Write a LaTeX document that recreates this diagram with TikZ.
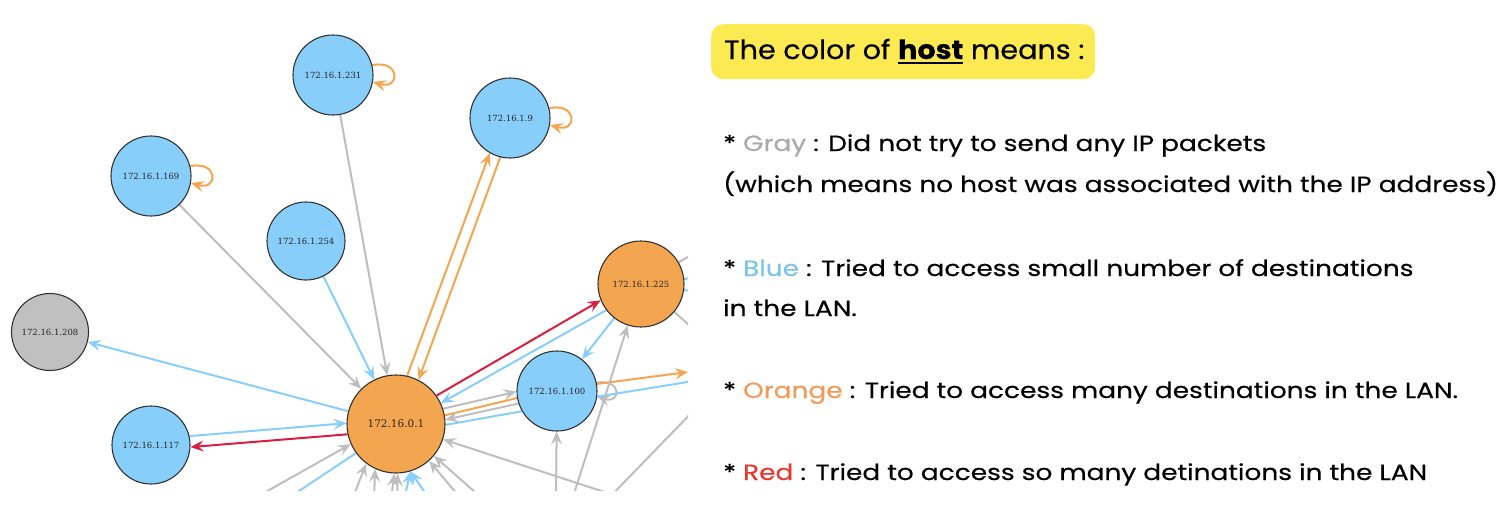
\documentclass[tikz,border=0pt]{standalone}
\usepackage{fontspec}
\setmainfont{Poppins}
\newfontfamily\labfont{DejaVu Serif}
\newfontfamily\legfont[FakeStretch=1.2,FakeBold=0.4]{Poppins}
\newfontfamily\titlefont[FakeStretch=1.08,FakeBold=0.4]{Poppins}
\usetikzlibrary{arrows.meta}
\definecolor{nblue}{RGB}{135,206,250}
\definecolor{norange}{RGB}{243,165,80}
\definecolor{ngray}{RGB}{192,192,192}
\definecolor{egray}{RGB}{190,190,190}
\definecolor{ered}{RGB}{218,30,65}
\definecolor{hlyellow}{RGB}{252,234,82}
\definecolor{tgray}{RGB}{170,170,170}
\definecolor{tblue}{RGB}{125,196,236}
\definecolor{torange}{RGB}{243,154,91}
\definecolor{tred}{RGB}{232,57,47}
\pgfdeclarelayer{bg}
\pgfsetlayers{bg,main}
\newcommand\ulword[1]{\setbox0\hbox{#1}\rlap{\rule[-5pt]{\wd0}{2pt}}#1}
\tikzset{
  host/.style={circle, draw=black!80, line width=1.1pt, inner sep=0pt, text=black!85,
    font=\labfont\fontsize{8.5}{10}\selectfont},
  bluehost/.style={host, fill=nblue},
  orangehost/.style={host, fill=norange},
  grayhost/.style={host, fill=ngray},
  tipped/.style={line width=2pt, -{Stealth[length=13pt,width=11pt,inset=5pt]}},
  plain/.style={line width=2pt},
  gEdge/.style={tipped, draw=egray},
  bEdge/.style={tipped, draw=nblue},
  oEdge/.style={tipped, draw=norange},
  rEdge/.style={tipped, draw=ered},
  gLine/.style={plain, draw=egray},
  bLine/.style={plain, draw=nblue},
  oLine/.style={plain, draw=norange},
  txt/.style={anchor=base west, inner sep=0pt, font=\legfont\fontsize{22}{26}\selectfont},
}
\begin{document}
\begin{tikzpicture}[x=1pt,y=-1pt]
\useasboundingbox (0,0) rectangle (1506,514);
% hosts
\node[bluehost, minimum size=80pt] (n231) at (333,75) {172.16.1.231};
\node[bluehost, minimum size=80pt] (n9) at (510,118) {172.16.1.9};
\node[bluehost, minimum size=80pt] (n169) at (151,176) {172.16.1.169};
\node[bluehost, minimum size=78pt] (n254) at (306,241) {172.16.1.254};
\node[grayhost, minimum size=77pt] (n208) at (50,332) {172.16.1.208};
\node[bluehost, minimum size=78pt] (n117) at (151,445) {172.16.1.117};
\node[orangehost, minimum size=98pt, font=\labfont\fontsize{10.5}{12}\selectfont] (n01) at (396,424) {172.16.0.1};
\node[bluehost, minimum size=80pt] (n100) at (557,391) {172.16.1.100};
\node[orangehost, minimum size=86pt] (n225) at (641,284) {172.16.1.225};
% off-picture ends
\coordinate (oR1) at (688,372);
\coordinate (oR2) at (700,380);
\coordinate (oR3) at (700,250);
\coordinate (oR4) at (700,274);
\coordinate (oR5) at (700,292);
\coordinate (oR6) at (700,335);
\coordinate (oD1) at (605,502);
\coordinate (oD2) at (700,404);
\coordinate (oB1) at (556,500);
\coordinate (oB2) at (572,500);
\coordinate (oB3) at (629,500);
\coordinate (oB4) at (262,494);
\coordinate (oB5) at (290,497);
\coordinate (oB6) at (352,500);
\coordinate (oB7) at (374,500);
\coordinate (oB8) at (391,500);
\coordinate (oB9) at (397,500);
\coordinate (oB10) at (404,500);
\coordinate (oB11) at (430,500);
\coordinate (oB12) at (462,500);
\coordinate (oB13) at (484,500);
\begin{pgfonlayer}{bg}
\begin{scope}
\clip (0,0) rectangle (688,490);
\draw[gEdge] (n231) -- (n01);
\draw[gEdge] (n169) -- (n01);
\draw[bEdge] (n254) -- (n01);
\draw[oEdge] (n01.77) -- (n9.240);
\draw[oEdge] (n9.256) -- (n01.63);
\draw[bEdge] (n01.165) -- (n208);
\draw[bEdge] (n117.13) -- (n01.179);
\draw[rEdge] (n01.192) -- (n117.357);
\draw[rEdge] (n01.35) -- (n225.202);
\draw[bEdge] (n225.217) -- (n01.25);
\draw[bEdge] (n225) -- (n100);
\draw[gEdge] (n01.18) -- (n100.181);
\draw[oLine] (n01.10) -- (n100.190);
\draw[bLine] (n100.210) -- (n01.359);
\draw[gEdge] (n100.198) -- (n01.5);
% self loops
\draw[oEdge] (n231.14) .. controls +(28,-6) and +(28,8) .. (n231.-10);
\draw[oEdge] (n9.14) .. controls +(28,-6) and +(28,8) .. (n9.-10);
\draw[oEdge] (n169.14) .. controls +(28,-6) and +(28,8) .. (n169.-10);
\draw[gEdge] (n100.12) .. controls +(26,-4) and +(24,8) .. (n100.-8);
% edges leaving the picture
\draw[oEdge] (n100.10) -- (oR1);
\draw[bLine] (n100.-8) -- (oR2);
\draw[gLine] (n225.30) -- (oR3);
\draw[bLine] (n225.6) -- (oR4);
\draw[bLine] (n225.-8) -- (oR5);
\draw[gLine] (n225.-40) -- (oR6);
\draw[gLine] (oD1) -- (oD2);
\draw[gEdge] (oB1) -- (n100);
\draw[gEdge] (oB2) -- (n225);
\draw[gEdge] (oB3) -- (n01);
\draw[gEdge] (oB4) -- (n01.204);
\draw[bLine] (oB5) -- (n01.216);
\draw[gEdge] (oB6) -- (n01.233);
\draw[gEdge] (oB7) -- (n01.245);
\draw[gEdge] (oB8) -- (n01.268);
\draw[gEdge] (oB9) -- (n01.272);
\draw[bEdge] (oB10) -- (n01.287);
\draw[bEdge] (oB11) -- (n01.287);
\draw[gEdge] (oB12) -- (n01.312);
\draw[gEdge] (oB13) -- (n01.320);
\end{scope}
\end{pgfonlayer}
% legend
\node[fill=hlyellow, rounded corners=12pt, minimum width=384pt, minimum height=55pt, anchor=north west, inner sep=0pt] (tbox) at (711,24) {};
\node[txt, font=\titlefont\fontsize{26.5}{32}\selectfont] (title) at (724,59) {The color of \ulword{\textbf{host}} means :};
\node[txt] (l1) at (723,151) {* {\color{tgray}Gray} : Did not try to send any IP packets};
\node[txt] (l2) at (723,192) {(which means no host was associated with the IP address)};
\node[txt] (l3) at (723,276) {* {\color{tblue}Blue} : Tried to access small number of destinations};
\node[txt] (l4) at (723,316) {in the LAN.};
\node[txt] (l5) at (723,398) {* {\color{torange}Orange} : Tried to access many destinations in the LAN.};
\node[txt] (l6) at (723,480) {* {\color{tred}Red} : Tried to access so many detinations in the LAN};
\end{tikzpicture}
\end{document}
